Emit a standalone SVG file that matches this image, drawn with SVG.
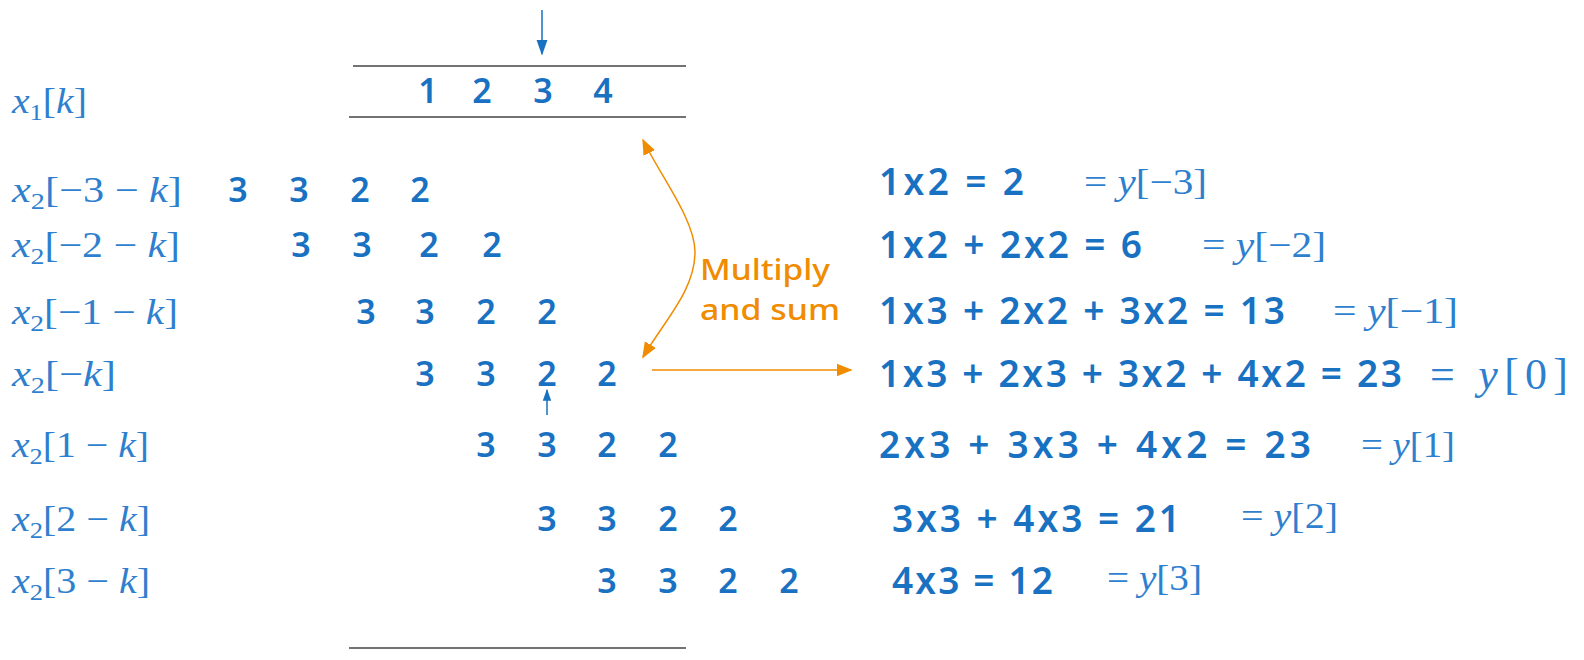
<svg xmlns="http://www.w3.org/2000/svg" width="1584" height="660" viewBox="0 0 1584 660">
<style>
.hw{font-family:"Noto Sans","DejaVu Sans",sans-serif;font-weight:600;fill:#1971c2;font-size:34px}
.eq{font-size:37px}
.d{text-anchor:middle}
.m{font-family:"Liberation Serif","DejaVu Serif",serif;fill:#2f7fcf;font-size:36px}
.i{font-style:italic}
.sub{font-size:24px}
.or{font-family:"Noto Sans","DejaVu Sans",sans-serif;font-weight:500;fill:#f08c00;font-size:28px}
.rule{stroke:#444;stroke-width:1.6;fill:none}
.blue{stroke:#1971c2;stroke-width:1.5;fill:none}
.orange{stroke:#f08c00;stroke-width:1.5;fill:none}
</style>
<defs>
<marker id="hb" viewBox="0 0 10 10" refX="9" refY="5" markerWidth="12" markerHeight="12" markerUnits="userSpaceOnUse" orient="auto-start-reverse"><path d="M0,1.5 L10,5 L0,8.5 z" fill="#1971c2"/></marker>
<marker id="ho" viewBox="0 0 10 10" refX="9" refY="5" markerWidth="16" markerHeight="16" markerUnits="userSpaceOnUse" orient="auto-start-reverse"><path d="M0,1 L10,5 L0,9 z" fill="#f08c00"/></marker>
<marker id="hbs" viewBox="0 0 10 10" refX="9" refY="5" markerWidth="16" markerHeight="16" markerUnits="userSpaceOnUse" orient="auto-start-reverse"><path d="M0,1.5 L10,5 L0,8.5 z" fill="#1971c2"/></marker>
</defs>

<g id="rules">
<line class="rule" x1="353" y1="66" x2="686" y2="66"/>
<line class="rule" x1="349" y1="117" x2="686" y2="117"/>
<line class="rule" x1="349" y1="648" x2="686" y2="648"/>
</g>

<g id="connectors">
<line class="blue" x1="542" y1="10" x2="542" y2="54" marker-end="url(#hbs)"/>
<line class="blue" x1="547" y1="415" x2="547" y2="390" marker-end="url(#hb)"/>
<path class="orange" d="M643,140 C660,175 695,220 695,252 C695,290 665,320 643,357" marker-start="url(#ho)" marker-end="url(#ho)"/>
<line class="orange" x1="652" y1="370" x2="851" y2="370" marker-end="url(#ho)"/>
</g>

<g id="labels">
<text class="m" x="12" y="113" textLength="75" lengthAdjust="spacingAndGlyphs"><tspan class="i">x</tspan><tspan class="sub" dy="7">1</tspan><tspan dy="-7">[</tspan><tspan class="i">k</tspan>]</text>
<text class="m" x="12" y="202" textLength="170" lengthAdjust="spacingAndGlyphs"><tspan class="i">x</tspan><tspan class="sub" dy="7">2</tspan><tspan dy="-7">[−3 − </tspan><tspan class="i">k</tspan>]</text>
<text class="m" x="12" y="257" textLength="168" lengthAdjust="spacingAndGlyphs"><tspan class="i">x</tspan><tspan class="sub" dy="7">2</tspan><tspan dy="-7">[−2 − </tspan><tspan class="i">k</tspan>]</text>
<text class="m" x="12" y="324" textLength="166" lengthAdjust="spacingAndGlyphs"><tspan class="i">x</tspan><tspan class="sub" dy="7">2</tspan><tspan dy="-7">[−1 − </tspan><tspan class="i">k</tspan>]</text>
<text class="m" x="12" y="386" textLength="104" lengthAdjust="spacingAndGlyphs"><tspan class="i">x</tspan><tspan class="sub" dy="7">2</tspan><tspan dy="-7">[−</tspan><tspan class="i">k</tspan>]</text>
<text class="m" x="12" y="457" textLength="137" lengthAdjust="spacingAndGlyphs"><tspan class="i">x</tspan><tspan class="sub" dy="7">2</tspan><tspan dy="-7">[1 − </tspan><tspan class="i">k</tspan>]</text>
<text class="m" x="12" y="531" textLength="138" lengthAdjust="spacingAndGlyphs"><tspan class="i">x</tspan><tspan class="sub" dy="7">2</tspan><tspan dy="-7">[2 − </tspan><tspan class="i">k</tspan>]</text>
<text class="m" x="12" y="593" textLength="138" lengthAdjust="spacingAndGlyphs"><tspan class="i">x</tspan><tspan class="sub" dy="7">2</tspan><tspan dy="-7">[3 − </tspan><tspan class="i">k</tspan>]</text>
</g>

<g id="x1-values" class="hw d">
<text x="428" y="103">1</text><text x="482" y="103">2</text><text x="543" y="103">3</text><text x="603" y="103">4</text>
</g>

<g id="x2-rows" class="hw d">
<g id="row-m3"><text x="238" y="202">3</text><text x="299" y="202">3</text><text x="360" y="202">2</text><text x="420" y="202">2</text></g>
<g id="row-m2"><text x="301" y="257">3</text><text x="362" y="257">3</text><text x="429" y="257">2</text><text x="492" y="257">2</text></g>
<g id="row-m1"><text x="366" y="324">3</text><text x="425" y="324">3</text><text x="486" y="324">2</text><text x="547" y="324">2</text></g>
<g id="row-0"><text x="425" y="386">3</text><text x="486" y="386">3</text><text x="547" y="386">2</text><text x="607" y="386">2</text></g>
<g id="row-1"><text x="486" y="457">3</text><text x="547" y="457">3</text><text x="607" y="457">2</text><text x="668" y="457">2</text></g>
<g id="row-2"><text x="547" y="531">3</text><text x="607" y="531">3</text><text x="668" y="531">2</text><text x="728" y="531">2</text></g>
<g id="row-3"><text x="607" y="593">3</text><text x="668" y="593">3</text><text x="728" y="593">2</text><text x="789" y="593">2</text></g>
</g>

<g id="note">
<text class="or" x="700" y="280" textLength="130" lengthAdjust="spacingAndGlyphs">Multiply</text>
<text class="or" x="700" y="320" textLength="140" lengthAdjust="spacingAndGlyphs">and sum</text>
</g>

<g id="equations" class="hw eq">
<text x="879" y="195" textLength="145" lengthAdjust="spacing">1x2 = 2</text>
<text x="879" y="258" textLength="263" lengthAdjust="spacing">1x2 + 2x2 = 6</text>
<text x="879" y="324" textLength="406" lengthAdjust="spacing">1x3 + 2x2 + 3x2 = 13</text>
<text x="879" y="387" textLength="523" lengthAdjust="spacing">1x3 + 2x3 + 3x2 + 4x2 = 23</text>
<text x="879" y="458" textLength="432" lengthAdjust="spacing">2x3 + 3x3 + 4x2 = 23</text>
<text x="892" y="532" textLength="288" lengthAdjust="spacing">3x3 + 4x3 = 21</text>
<text x="892" y="594" textLength="161" lengthAdjust="spacing">4x3 = 12</text>
</g>

<g id="results" class="m">
<text x="1084" y="194" textLength="123" lengthAdjust="spacingAndGlyphs">= <tspan class="i">y</tspan>[−3]</text>
<text x="1202" y="257" textLength="124" lengthAdjust="spacingAndGlyphs">= <tspan class="i">y</tspan>[−2]</text>
<text x="1333" y="323" textLength="125" lengthAdjust="spacingAndGlyphs">= <tspan class="i">y</tspan>[−1]</text>
<text x="1430" y="389" textLength="138" lengthAdjust="spacing" style="font-size:44px">= <tspan class="i">y</tspan>[0]</text>
<text x="1361" y="457" textLength="94" lengthAdjust="spacingAndGlyphs">= <tspan class="i">y</tspan>[1]</text>
<text x="1241" y="528" textLength="97" lengthAdjust="spacingAndGlyphs">= <tspan class="i">y</tspan>[2]</text>
<text x="1107" y="590" textLength="95" lengthAdjust="spacingAndGlyphs">= <tspan class="i">y</tspan>[3]</text>
</g>
</svg>
